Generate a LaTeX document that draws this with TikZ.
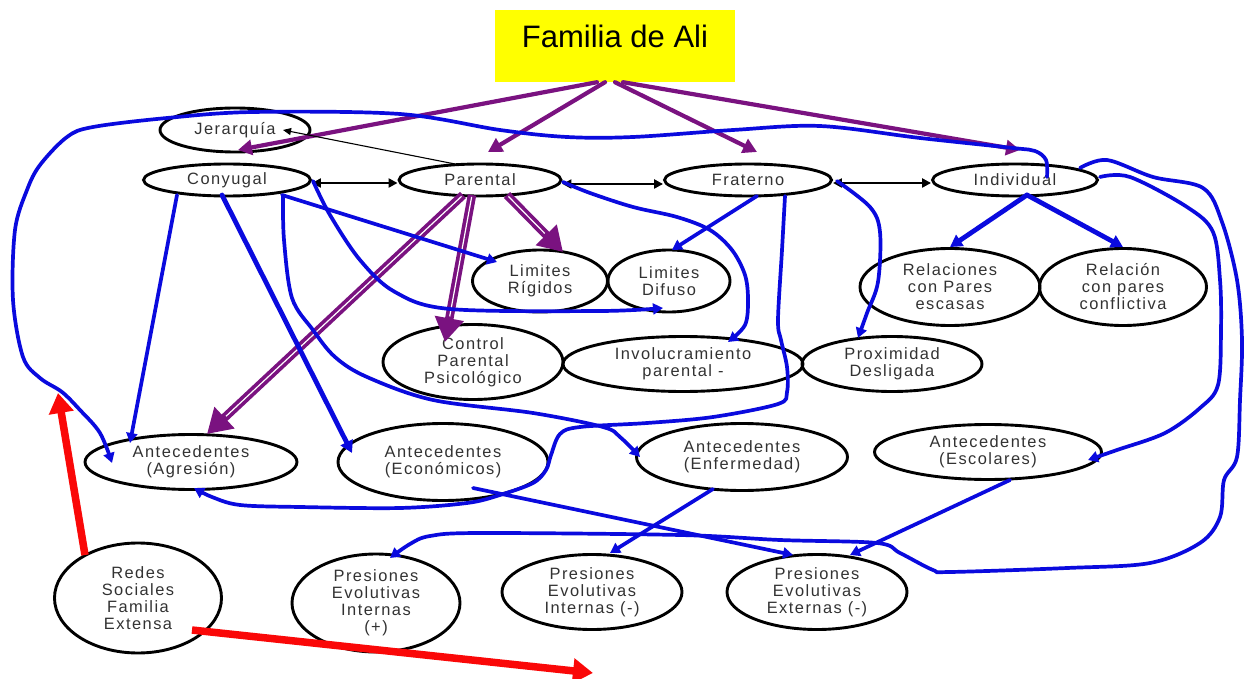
\documentclass[tikz,border=0pt]{standalone}
\usepackage{fontspec}
\setmainfont{Liberation Sans}
\newfontfamily\lblfont[LetterSpace=9]{Liberation Sans}
\usetikzlibrary{shapes.geometric,arrows.meta,calc}

\definecolor{lnblue}{RGB}{10,10,222}
\definecolor{lnpurple}{RGB}{122,18,128}
\definecolor{lnred}{RGB}{250,8,8}
\definecolor{boxyellow}{RGB}{255,255,0}
\definecolor{lbltext}{RGB}{50,50,50}

\tikzset{
  oval/.style 2 args={ellipse, draw=black, line width=2.9pt, inner sep=0pt,
    minimum width=#1pt, minimum height=#2pt, align=center, text=lbltext,
    font=\lblfont\fontsize{16.4}{17}\selectfont},
  titlebox/.style={rectangle, fill=boxyellow, inner sep=0pt,
    minimum width=240pt, minimum height=72pt, text height=22pt, text depth=18pt,
    font=\fontsize{31}{34}\selectfont},
  bl/.style={draw=lnblue, line width=3.7pt, line cap=round, line join=round,
    -{Triangle[length=10pt,width=11pt]}},
  blthick/.style={bl, line width=4.8pt, -{Triangle[length=12pt,width=13pt]}},
  pl/.style={draw=lnpurple, line width=4.2pt, line cap=round,
    -{Triangle[length=14pt,width=15pt]}},
  dp/.style={draw=lnpurple, line width=8.5pt,
    -{Triangle[length=24pt,width=28pt]},
    postaction={draw=white, line width=1.2pt, arrows=-, shorten >=26pt, shorten <=2pt}},
  bk/.style={draw=black, line width=2.4pt,
    {Triangle[length=9pt,width=9pt]}-{Triangle[length=9pt,width=9pt]}},
  bkthin/.style={draw=black, line width=1.1pt, -{Triangle[length=8pt,width=7pt]}},
  rd/.style={draw=lnred, line width=7.5pt, -{Triangle[length=20pt,width=24pt]}},
  crv/.style={smooth, tension=0.55}
}

\begin{document}
\begin{tikzpicture}[x=1pt, y=-1pt]
\path[use as bounding box, fill=white] (0,0) rectangle (1248,679);

% ---- title ----
\node[titlebox] (title) at (615,46) {Familia de Ali};

% ---- subsystems ----
\node[oval={150}{44}] (jer)   at (235,130) {Jerarquía};
\node[oval={167}{32}] (cony)  at (227,180) {Conyugal};
\node[oval={162}{32}] (par)   at (480,180) {Parental};
\node[oval={167}{32}] (frat)  at (748,180) {Fraterno};
\node[oval={165}{32}] (indiv) at (1015,180) {Individual};

% ---- second row ----
\node[oval={135}{62}] (limr) at (540,281) {Limites\\Rígidos};
\node[oval={122}{62}] (limd) at (669,281) {Limites\\Difuso};
\node[oval={180}{77}] (relp) at (950,287) {Relaciones\\con Pares\\escasas};
\node[oval={167}{77}] (relc) at (1123,287) {Relación\\con pares\\conflictiva};

% ---- third row ----
\node[oval={180}{75}] (cpp)  at (473,362) {Control\\Parental\\Psicológico};
\node[oval={240}{55}] (inv)  at (683,364) {Involucramiento\\parental -};
\node[oval={180}{55}] (prox) at (892,364) {Proximidad\\Desligada};

% ---- antecedents ----
\node[oval={212}{55}] (agr) at (191,462) {Antecedentes\\(Agresión)};
\node[oval={210}{77}] (eco) at (443,462) {Antecedentes\\(Económicos)};
\node[oval={211}{67}] (enf) at (742,457) {Antecedentes\\(Enfermedad)};
\node[oval={227}{55}] (esc) at (988,452) {Antecedentes\\(Escolares)};

% ---- bottom row ----
\node[oval={167}{110}] (redes) at (138,598) {Redes\\Sociales\\Familia\\Extensa};
\node[oval={168}{98}]  (pei)   at (376,603) {Presiones\\Evolutivas\\Internas\\(+)};
\node[oval={180}{75}]  (pein)  at (592,592) {Presiones\\Evolutivas\\Internas (-)};
\node[oval={180}{75}]  (pee)   at (817,592) {Presiones\\Evolutivas\\Externas (-)};

\coordinate (rtipa) at (58,393);
\coordinate (rtipb) at (593,673);

% ---- purple arrows from the family box ----
\draw[pl] ($(title.south)+(-18,0)$) -- ($(cony)+(11,-30)$);
\draw[pl] ($(title.south)+(-10,0)$) -- ($(par)+(8,-28)$);
\draw[pl] ($(title.south)+(0,0)$)   -- ($(frat)+(9,-28)$);
\draw[pl] ($(title.south)+(8,0)$)   -- ($(indiv)+(5,-30)$);

% ---- heavy purple arrows from Parental ----
\draw[dp] ($(par)+(-17,15)$) -- ($(agr)+(16,-28)$);
\draw[dp] ($(par)+(-8,15)$)  -- ($(cpp)+(-28,-20)$);
\draw[dp] ($(par)+(27,15)$)  -- ($(limr)+(23,-29)$);

% ---- black links between subsystems ----
\draw[bkthin] ($(par)+(-25,-16)$) -- ($(jer)+(48,0)$);
\draw[bk] ($(cony.east)+(0,3)$) -- ($(par.west)+(0,3)$);
\draw[bk] ($(frat.west)+(0,4)$) -- ($(par.east)+(0,4)$);
\draw[bk] ($(frat.east)+(0,3)$) -- ($(indiv.west)+(0,3)$);

% ---- blue links ----
\draw[blthick] ($(indiv)+(12,15)$) -- (relp.north);
\draw[blthick] ($(indiv)+(12,15)$) -- (relc.north);
\draw[bl] ($(frat)+(9,16)$) -- ($(limd)+(3,-31)$);
\draw[bl] ($(cony)+(55,15)$) -- ($(limr)+(-43,-19)$);
\draw[blthick] ($(cony)+(-5,15)$) -- ($(eco)+(-91,-9)$);
\draw[bl] ($(cony)+(-50,15)$) -- ($(agr)+(-61,-19)$);
\draw[bl] ($(eco)+(30,26)$) -- ($(pee)+(-24,-37)$);
\draw[bl] ($(enf)+(-29,32)$) -- ($(pein)+(18,-39)$);
\draw[bl] ($(esc)+(22,28)$) -- ($(pee)+(33,-37)$);

% Conyugal -> Limites Difuso (under)
\draw[bl] plot[crv] coordinates {($(cony)+(86,1)$) (330,215) (360,260) (395,292)
  (450,309) (600,311) ($(limd)+(-6,27)$)};
% Conyugal -> Antecedentes (Enfermedad)
\draw[bl] plot[crv] coordinates {($(cony)+(56,16)$) (284,240) (292,298) (313,330)
  (335,357) (367,377) (433,400) (533,413) (603,427) (620,437) ($(enf)+(-102,0)$)};
% Individual -> around the top and the left edge -> Antecedentes (Agresión)
\draw[bl] plot[crv] coordinates {($(indiv)+(32,-3)$) (1046,160) (1035,151) (1013,148)
  (920,138) (820,126) (733,130) (633,137) (567,137) (500,130) (400,114) (253,112)
  (167,118) (93,127) (67,137) (40,165) (27,190) (15,230) (13,300) (23,357) (40,378)
  (62,392) (80,410) (100,433) ($(agr)+(-79,1)$)};
% Fraterno -> Proximidad Desligada
\draw[bl] plot[crv] coordinates {($(frat)+(89,1)$) (870,207) (880,232) (878,282)
  (867,313) ($(prox)+(-34,-26)$)};
% Parental -> Involucramiento parental
\draw[bl] plot[crv] coordinates {($(par)+(83,2)$) (590,193) (633,207) (677,217)
  (710,230) (732,250) (745,275) (748,300) (745,325) ($(inv)+(45,-22)$)};
% Fraterno -> down and back -> Antecedentes (Agresión)
\draw[bl] plot[crv] coordinates {($(frat)+(37,16)$) (782,250) (778,320) (781,340)
  (787,367) (787,392) (778,404) (713,417) (647,423) (580,427) (560,434) (551,455)
  (546,470) (533,483) (500,495) (467,503) (400,508) (300,507) (240,505) (212,497)
  ($(agr)+(3,26)$)};
% Individual -> right edge -> Antecedentes (Escolares)
\draw[bl] plot[crv] coordinates {($(indiv)+(85,-3)$) (1130,177) (1187,207) (1213,232)
  (1220,280) (1221,330) (1218,385) (1200,408) (1165,433) (1117,450) ($(esc)+(100,8)$)};
% Individual -> outer right loop -> Presiones Evolutivas Internas (+)
\draw[bl] plot[crv] coordinates {($(indiv)+(65,-12)$) (1107,160) (1153,177) (1203,188)
  (1222,222) (1237,280) (1242,340) (1240,400) (1237,457) (1224,480) (1220,517)
  (1200,543) (1150,563) (1067,568) (950,572) (933,570) (900,553) (877,543) (780,540)
  (680,535) (480,533) (430,536) (410,544) ($(pei)+(14,-45)$)};

% ---- extended family network ----
\draw[rd] ($(redes)+(-53,-43)$) -- (rtipa);
\draw[rd] ($(redes)+(54,32)$) -- (rtipb);
\end{tikzpicture}
\end{document}
